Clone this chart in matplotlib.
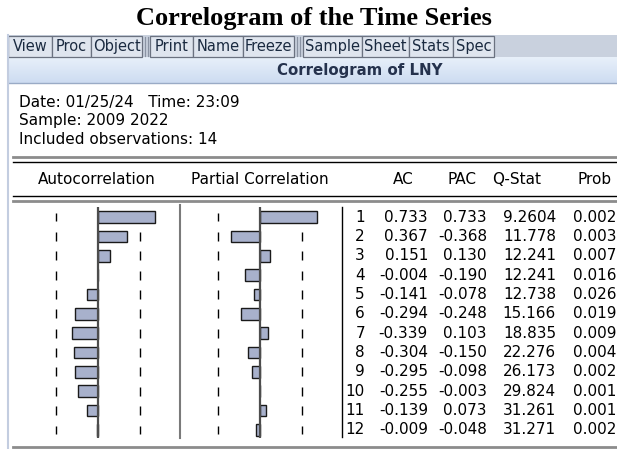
import numpy as np
import matplotlib
matplotlib.use("Agg")
import matplotlib.pyplot as plt
from matplotlib.patches import Rectangle

# correlogram values of LNY
lags = list(range(1, 13))
ac = [0.733, 0.367, 0.151, -0.004, -0.141, -0.294, -0.339, -0.304, -0.295, -0.255, -0.139, -0.009]
pac = [0.733, -0.368, 0.130, -0.190, -0.078, -0.248, 0.103, -0.150, -0.098, -0.003, 0.073, -0.048]
qstat = ["9.2604", "11.778", "12.241", "12.241", "12.738", "15.166", "18.835", "22.276", "26.173", "29.824", "31.261", "31.271"]
prob = ["0.002", "0.003", "0.007", "0.016", "0.026", "0.019", "0.009", "0.004", "0.002", "0.001", "0.001", "0.002"]
n_obs = 14

buttons = [("View", 8, 52), ("Proc", 52, 91), ("Object", 91, 142),
           ("Print", 150, 193), ("Name", 193, 243), ("Freeze", 243, 294),
           ("Sample", 303, 362), ("Sheet", 362, 409), ("Stats", 409, 453), ("Spec", 453, 494)]

W, H = 617, 449
fig = plt.figure(figsize=(W / 100, H / 100), dpi=100)
plt.rcParams['font.family'] = ['DejaVu Sans']
fs = 11.0


def px_axes(x0, x1, y0, y1):
    return fig.add_axes([x0 / W, 1 - y1 / H, (x1 - x0) / W, (y1 - y0) / H])


bg = px_axes(0, W, 0, H)
bg.set_xlim(0, W)
bg.set_ylim(H, 0)
bg.axis("off")

# title
bg.text(314, 18, "Correlogram of the Time Series", ha="center", va="center",
        fontsize=19, fontweight="bold", family="Liberation Serif")

# toolbar
bg.add_patch(Rectangle((8, 35), W - 8, 22, fc="#c9d1de", ec="none"))
for label, x0, x1 in buttons:
    bg.add_patch(Rectangle((x0, 36), x1 - x0, 20.5, fc="#dfe5ee", ec="#6b7280", lw=0.9))
    bg.text((x0 + x1) / 2, 46.5, label, ha="center", va="center", fontsize=10.5, color="#1a2a40")
for sx in (145, 297):
    bg.plot([sx, sx], [37, 56], color="#8a93a3", lw=0.9)
    bg.plot([sx + 2.5, sx + 2.5], [37, 56], color="#8a93a3", lw=0.9)

# header band with gradient
grad = np.linspace(0, 1, 50).reshape(-1, 1)
bg.imshow(grad, extent=(8, W, 83, 57), aspect="auto", zorder=0,
          cmap=matplotlib.colors.LinearSegmentedColormap.from_list("hb", ["#e8f0fa", "#cddcf1"]))
bg.plot([8, W], [83, 83], color="#9aabc6", lw=1)
bg.text(360, 70, "Correlogram of LNY", ha="center", va="center", fontsize=10.8,
        fontweight="bold", color="#25324d")

# left window border
bg.plot([7.5, 7.5], [35, H], color="#c3cde0", lw=1.5)

# info lines
bg.text(19, 102, "Date: 01/25/24   Time: 23:09", va="center", fontsize=fs)
bg.text(19, 121, "Sample: 2009 2022", va="center", fontsize=fs)
bg.text(19, 140, "Included observations: %d" % n_obs, va="center", fontsize=fs)

# rules
bg.plot([13, W], [157, 157], color="#8c8c8c", lw=2)
bg.plot([13, W], [162, 162], color="black", lw=1)
bg.plot([13, W], [196, 196], color="black", lw=1)
bg.plot([13, W], [201, 201], color="#8c8c8c", lw=2)
bg.plot([13, W], [447, 447], color="#8c8c8c", lw=2)
bg.plot([180, 180], [205, 438], color="#7a7a7a", lw=1.5)
bg.plot([342, 342], [207, 437], color="black", lw=1)

# column headers
bg.text(97, 180, "Autocorrelation", ha="center", va="center", fontsize=fs)
bg.text(260, 180, "Partial Correlation", ha="center", va="center", fontsize=fs)
for lbl, cx in [("AC", 403), ("PAC", 462), ("Q-Stat", 517), ("Prob", 595)]:
    bg.text(cx, 180, lbl, ha="center", va="center", fontsize=fs)

# bar panels
bound = 2 / np.sqrt(n_obs)
row_top, row_bot = 217 - 9.68, 430 + 9.68
for vals, (x0, x1) in [(ac, (20, 176)), (pac, (182, 338))]:
    ax = px_axes(x0, x1, row_top, row_bot)
    ax.set_xlim(-1, 1)
    ax.set_ylim(12.5, 0.5)
    ax.axis("off")
    for b in (-bound, bound):
        ax.vlines([b] * len(lags), [l - 0.23 for l in lags], [l + 0.23 for l in lags],
                  colors="black", lw=1, zorder=1)
    ax.barh(lags, vals, height=0.6, color="#a8b1cc", edgecolor="#1a1a1a", lw=1, zorder=2)
    ax.vlines(0, 0.4, 12.4, colors="#4d4d4d", lw=1.6, zorder=3)

# numeric table
tab = px_axes(340, W, row_top, row_bot)
tab.set_xlim(340, W)
tab.set_ylim(12.5, 0.5)
tab.axis("off")
for i, lag in enumerate(lags):
    tab.text(365, lag, str(lag), ha="right", va="center", fontsize=fs)
    tab.text(428, lag, "%.3f" % ac[i], ha="right", va="center", fontsize=fs)
    tab.text(487, lag, "%.3f" % pac[i], ha="right", va="center", fontsize=fs)
    tab.text(556, lag, qstat[i], ha="right", va="center", fontsize=fs)
    tab.text(616, lag, prob[i], ha="right", va="center", fontsize=fs)

fig.savefig("out.png", dpi=100)
